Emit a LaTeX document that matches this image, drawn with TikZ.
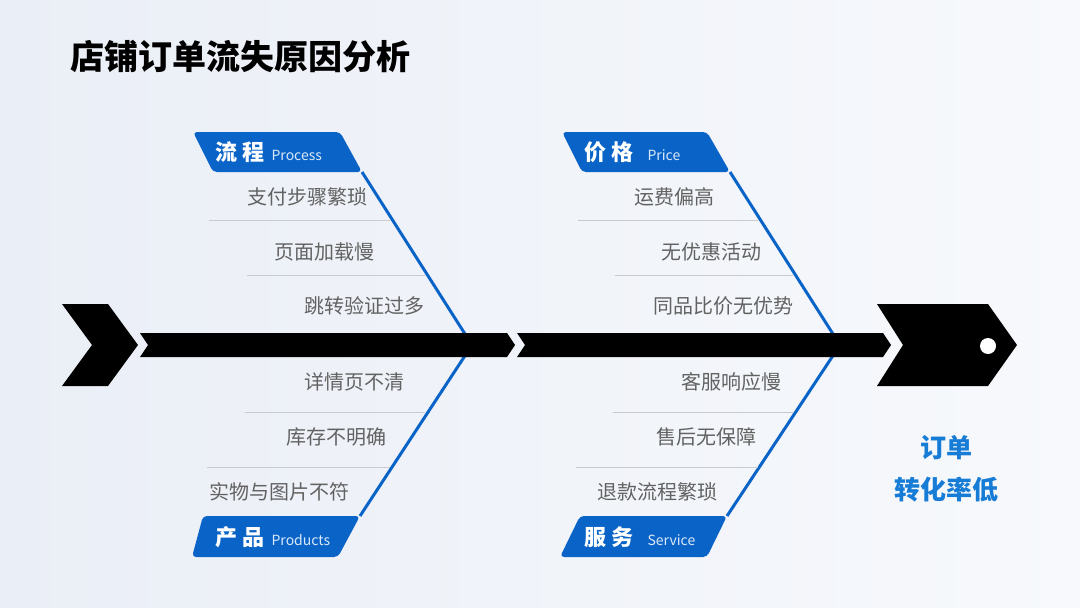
\documentclass[tikz,border=0pt]{standalone}
\usepackage{fontspec}
\setmainfont{Noto Sans CJK SC}
\usetikzlibrary{positioning}

\definecolor{tabblue}{RGB}{10,100,200}
\definecolor{resblue}{RGB}{22,124,214}
\definecolor{causegray}{RGB}{98,98,98}
\definecolor{sepgray}{RGB}{200,202,206}
\definecolor{bgleft}{RGB}{234,238,246}
\definecolor{bgright}{RGB}{247,249,252}

\begin{document}
\begin{tikzpicture}[
    x=1pt, y=-1pt,
% Styles
    spine/.style={fill=black},
    bone/.style={draw=tabblue, line width=3pt},
    tabbox/.style={fill=tabblue, rounded corners=4pt},
    tabtxt/.style={anchor=west, text=white, font=\fontsize{22}{24}\selectfont\bfseries, inner sep=0pt},
    tabsub/.style={text=white!85!tabblue, font=\fontsize{14}{16}\selectfont, inner sep=0pt, anchor=base west},
    cause/.style={anchor=east, text=causegray, font=\fontsize{20}{23}\selectfont, inner sep=0pt},
    sepline/.style={draw=sepgray, line width=1pt}
]

% 0. Background
\shade[left color=bgleft, right color=bgright] (0,0) rectangle (1080,608);
\useasboundingbox (0,0) rectangle (1080,608);

% 1. Title
\node[anchor=west, font=\fontsize{34}{37}\selectfont\bfseries, inner sep=0pt] (title) at (70,57) {店铺订单流失原因分析};

% 2. Category tabs
\fill[tabbox] (193,132) -- (340,132) -- (362,172) -- (213,172) -- cycle;
\coordinate (procEnd) at (362,172);
\node[tabtxt] (procTab) at (215,152) {流\hspace{5pt}程};
\node[tabsub, right=7pt of procTab.base east, anchor=base west] (procSub) {Process};

\fill[tabbox] (203,516) -- (360,516) -- (338,557) -- (192,557) -- cycle;
\coordinate (prodEnd) at (360,516);
\node[tabtxt] (prodTab) at (215,537) {产\hspace{5pt}品};
\node[tabsub, right=7pt of prodTab.base east, anchor=base west] (prodSub) {Products};

\fill[tabbox] (562,132) -- (707,132) -- (730,172) -- (582,172) -- cycle;
\coordinate (priceEnd) at (730,172);
\node[tabtxt] (priceTab) at (584,152) {价\hspace{5pt}格};
\node[tabsub, right=14pt of priceTab.base east, anchor=base west] (priceSub) {Price};

\fill[tabbox] (580,516) -- (727,516) -- (707,557) -- (560,557) -- cycle;
\coordinate (servEnd) at (727,516);
\node[tabtxt] (servTab) at (584,537) {服\hspace{5pt}务};
\node[tabsub, right=14pt of servTab.base east, anchor=base west] (servSub) {Service};

% 3. Bones (behind the spine)
\coordinate (apexL) at (472,345);
\coordinate (apexR) at (840,345);
\draw[bone] (procEnd) -- (apexL) -- (prodEnd);
\draw[bone] (priceEnd) -- (apexR) -- (servEnd);

% 4. Fish skeleton (tail, spine, head)
\fill[spine] (62,304) -- (108,304) -- (138,345) -- (108,386) -- (62,386) -- (92,345) -- cycle;
\fill[spine] (140,333) -- (507,333) -- (515,345) -- (507,357) -- (140,357) -- (148,345) -- cycle;
\fill[spine] (517,333) -- (883,333) -- (891,345) -- (883,357) -- (517,357) -- (525,345) -- cycle;
\fill[spine] (877,304) -- (988,304) -- (1017,345) -- (988,386) -- (877,386) -- (903,345) -- cycle;
\fill[white] (988,346) circle (8);

% 5. Causes - process
\node[cause] (c11) at (368,197) {支付步骤繁琐};
\draw[sepline] (209,220) -- (390,220);
\node[cause] (c12) at (375,252) {页面加载慢};
\draw[sepline] (247,275) -- (425,275);
\node[cause] (c13) at (425,306) {跳转验证过多};

% Causes - product
\node[cause] (c21) at (405,382) {详情页不清};
\draw[sepline] (245,412) -- (425,412);
\node[cause] (c22) at (387,437) {库存不明确};
\draw[sepline] (207,467) -- (390,467);
\node[cause] (c23) at (350,492) {实物与图片不符};

% Causes - price
\node[cause] (c31) at (715,197) {运费偏高};
\draw[sepline] (578,220) -- (758,220);
\node[cause] (c32) at (762,252) {无优惠活动};
\draw[sepline] (615,275) -- (793,275);
\node[cause] (c33) at (794,306) {同品比价无优势};

% Causes - service
\node[cause] (c41) at (782,382) {客服响应慢};
\draw[sepline] (613,412) -- (793,412);
\node[cause] (c42) at (757,437) {售后无保障};
\draw[sepline] (576,467) -- (758,467);
\node[cause] (c43) at (718,492) {退款流程繁琐};

% 6. Result
\node[text=resblue, font=\fontsize{26}{42}\selectfont\bfseries, align=center] (result) at (946,469) {订单\\转化率低};

\end{tikzpicture}
\end{document}
